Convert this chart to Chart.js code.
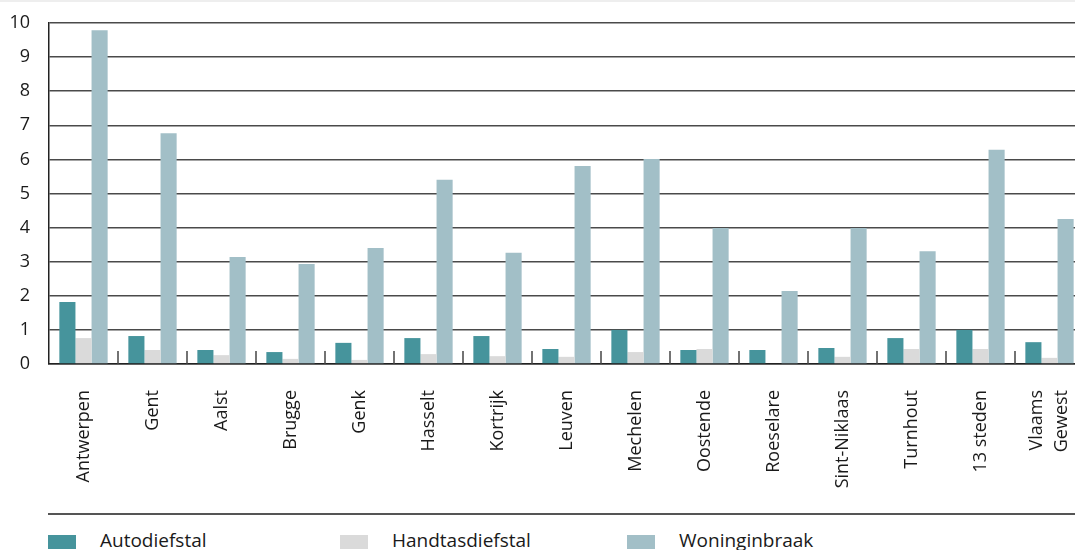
<!DOCTYPE html>
<html>
<head>
<meta charset="utf-8">
<script src="https://cdn.jsdelivr.net/npm/chart.js@4"></script>
<style>
  html, body { margin: 0; padding: 0; background: #fff; overflow: hidden; }
  body { width: 1075px; height: 550px; border-top: 2px solid #eeeeee; box-sizing: border-box; position: relative; }
  #wrap { position: absolute; left: 0; top: -2px; width: 1084px; height: 500px; }
  #sep { position: absolute; left: 48px; top: 511px; width: 1040px; height: 0; border-top: 2px solid #555; }
  #legend { position: absolute; left: 0; top: 528px; height: 24px; font-family: "Open Sans", sans-serif; font-size: 19px; color: #1a1a1a; }
  .item { position: absolute; top: 0; white-space: nowrap; }
  .box { position: absolute; top: 5px; width: 28px; height: 14px; }
  .lbl { position: absolute; top: -3px; }
</style>
</head>
<body>
<div id="wrap"><canvas id="chart"></canvas></div>
<div id="sep"></div>
<div id="legend"></div>
<script>
const categories = ['Antwerpen', 'Gent', 'Aalst', 'Brugge', 'Genk', 'Hasselt', 'Kortrijk', 'Leuven',
  'Mechelen', 'Oostende', 'Roeselare', 'Sint-Niklaas', 'Turnhout', '13 steden', ['Vlaams', 'Gewest']];
const seriesNames = ['Autodiefstal', 'Handtasdiefstal', 'Woninginbraak'];
const autodiefstal = [1.82, 0.82, 0.41, 0.35, 0.62, 0.76, 0.82, 0.44, 1.0, 0.41, 0.41, 0.47, 0.76, 1.0, 0.64];
const handtasdiefstal = [0.76, 0.41, 0.26, 0.15, 0.12, 0.29, 0.23, 0.21, 0.35, 0.44, 0, 0.21, 0.44, 0.44, 0.18];
const woninginbraak = [9.79, 6.77, 3.14, 2.93, 3.40, 5.40, 3.26, 5.81, 6.01, 3.99, 2.14, 3.99, 3.31, 6.28, 4.25];
const yTicks = [0, 1, 2, 3, 4, 5, 6, 7, 8, 9, 10];

const COLORS = ['#46949c', '#dadada', '#a2bfc7'];
const FONT = '"Open Sans", sans-serif';
const X_FONT_SIZE = 18;
const X_LINE_HEIGHT = 1.35;

// small upward tick marks between categories, on the baseline
const boundaryTicks = {
  id: 'boundaryTicks',
  beforeDraw(chart) {
    // center multi-line rotated labels on their category
    const x = chart.scales.x;
    const items = x.getLabelItems();
    items.forEach(item => {
      const lines = Array.isArray(item.label) ? item.label.length : 1;
      if (lines > 1 && !item._centered) {
        item.options.translation[0] -= (lines - 1) * X_FONT_SIZE * X_LINE_HEIGHT / 2;
        item._centered = true;
      }
    });
  },
  afterDatasetsDraw(chart) {
    const x = chart.scales.x;
    const bottom = chart.chartArea.bottom;
    const ctx = chart.ctx;
    ctx.save();
    ctx.strokeStyle = '#444';
    ctx.lineWidth = 1.5;
    for (let i = 1; i < categories.length; i++) {
      const px = (x.getPixelForValue(i - 1) + x.getPixelForValue(i)) / 2;
      ctx.beginPath();
      ctx.moveTo(px, bottom - 13);
      ctx.lineTo(px, bottom);
      ctx.stroke();
    }
    ctx.restore();
  }
};

const datasets = [autodiefstal, handtasdiefstal, woninginbraak].map((d, i) => ({
  label: seriesNames[i],
  data: d,
  backgroundColor: COLORS[i],
  borderWidth: 0,
  barPercentage: 1,
  categoryPercentage: 0.7
}));

new Chart(document.getElementById('chart'), {
  type: 'bar',
  data: { labels: categories, datasets },
  plugins: [boundaryTicks],
  options: {
    responsive: true,
    maintainAspectRatio: false,
    animation: false,
    layout: { padding: { top: 23, right: 0, bottom: 0, left: 0 } },
    scales: {
      x: {
        grid: { display: false },
        border: { display: true, color: '#222', width: 1.5 },
        afterFit: (scale) => {
          scale.height = 136;
          scale.paddingLeft = 0;
          scale.paddingRight = 0;
        },
        ticks: {
          color: '#1a1a1a',
          font: { family: FONT, size: X_FONT_SIZE, lineHeight: X_LINE_HEIGHT },
          minRotation: 90,
          maxRotation: 90,
          autoSkip: false,
          padding: 18
        }
      },
      y: {
        min: 0,
        max: 10,
        afterFit: (scale) => {
          scale.width = 49;
          scale.paddingTop = 0;
          scale.paddingBottom = 0;
        },
        afterBuildTicks: (scale) => { scale.ticks = yTicks.map(v => ({ value: v })); },
        border: { display: true, color: '#222', width: 1.5 },
        grid: { color: '#4a4a4a', lineWidth: 1.6, drawTicks: false },
        ticks: {
          color: '#1a1a1a',
          font: { family: FONT, size: 18 },
          padding: 19
        }
      }
    },
    plugins: {
      legend: { display: false },
      tooltip: { enabled: false }
    }
  }
});

// legend below the chart
const legendX = [48, 340, 627];
const legend = document.getElementById('legend');
seriesNames.forEach((name, i) => {
  const item = document.createElement('div');
  item.className = 'item';
  item.style.left = legendX[i] + 'px';
  item.innerHTML = `<div class="box" style="background:${COLORS[i]}"></div><span class="lbl" style="left:52px">${name}</span>`;
  legend.appendChild(item);
});
</script>
</body>
</html>
